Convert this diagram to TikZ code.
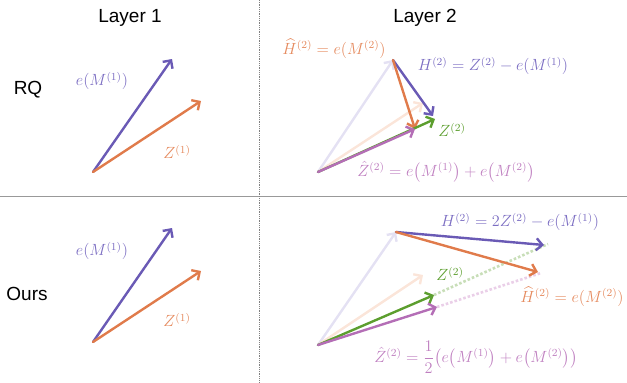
\documentclass[tikz,border=0pt]{standalone}
\usepackage{amsmath}
\usepackage{fontspec}
\newfontfamily\headfont{Liberation Sans}
\usetikzlibrary{arrows.meta}
\definecolor{cpur}{HTML}{6A5AB5}
\definecolor{cora}{HTML}{E07B4B}
\definecolor{cgrn}{HTML}{5C9E2E}
\definecolor{cmag}{HTML}{B46EB6}
\definecolor{lpur}{HTML}{7B6DC2}
\definecolor{lora}{HTML}{E58A5E}
\definecolor{lmag}{HTML}{BF7FC0}
\definecolor{fpur}{HTML}{E4E1F3}
\definecolor{fora}{HTML}{FBE5D9}
\definecolor{dgrn}{HTML}{C8DEB8}
\definecolor{dmag}{HTML}{EACFE8}
\begin{document}
\begin{tikzpicture}[x=1pt,y=-1pt,
  vec/.style={line width=2.4pt,line cap=round,-{Straight Barb[length=6pt,width=12pt]}},
  dotl/.style={line width=2.6pt,dotted},
  head/.style={font=\headfont\fontsize{19}{22}\selectfont},
  lab/.style={font=\fontsize{12}{14}\selectfont,inner sep=1pt,scale=1.35}]
\useasboundingbox (0,0) rectangle (627,383);
% separators
\coordinate (hl) at (0,196); \coordinate (hr) at (627,196);
\coordinate (vt) at (259,0); \coordinate (vb) at (259,383);
\draw[gray!80,line width=0.8pt] (hl) -- (hr);
\draw[gray,line width=0.8pt,densely dotted] (vt) -- (vb);
% headings
\node[head] (l1) at (130,18) {Layer 1};
\node[head] (l2) at (425,18) {Layer 2};
\node[head] (rq) at (28,90) {RQ};
\node[head] (ours) at (27,294) {Ours};
% ---- RQ layer 1
\coordinate (O1) at (93,172); \coordinate (P1) at (172,59); \coordinate (Q1) at (201,101);
\draw[vec,cpur] (O1) -- (P1);
\draw[vec,cora] (O1) -- (Q1);
\node[lab,text=lpur] (t1) at (102,81) {$e(M^{(1)})$};
\node[lab,text=lora] (t2) at (177,152) {$Z^{(1)}$};
% ---- Ours layer 1
\coordinate (O3) at (93,342); \coordinate (P3) at (172,228); \coordinate (Q3) at (201,271);
\draw[vec,cpur] (O3) -- (P3);
\draw[vec,cora] (O3) -- (Q3);
\node[lab,text=lpur] (t3) at (102,251) {$e(M^{(1)})$};
\node[lab,text=lora] (t4) at (177,320) {$Z^{(1)}$};
% ---- RQ layer 2
\coordinate (O2) at (318,172); \coordinate (A2) at (393,60); \coordinate (B2) at (423,103);
\coordinate (C2) at (433,116); \coordinate (G2) at (435,119); \coordinate (D2) at (415,129);
\draw[vec,fpur] (O2) -- (A2);
\draw[vec,fora] (O2) -- (B2);
\draw[vec,cpur] (A2) -- (C2);
\draw[vec,cora] (A2) -- (D2);
\draw[vec,cgrn] (O2) -- (G2);
\draw[vec,cmag] (O2) -- (D2);
\node[lab,text=lora] (t5) at (334,49) {$\widehat{H}^{(2)}=e(M^{(2)})$};
\node[lab,text=lpur] (t6) at (493,66) {$H^{(2)}=Z^{(2)}-e(M^{(1)})$};
\node[lab,text=cgrn] (t7) at (452,130) {$Z^{(2)}$};
\node[lab,text=lmag] (t8) at (446,172) {$\hat{Z}^{(2)}=e\bigl(M^{(1)}\bigr)+e\bigl(M^{(2)}\bigr)$};
% ---- Ours layer 2
\coordinate (O4) at (318,345); \coordinate (A4) at (396,232); \coordinate (B4) at (423,275);
\coordinate (C4) at (544,245); \coordinate (E4) at (548,244);
\coordinate (D4) at (538,272); \coordinate (F4) at (541,273);
\coordinate (G4) at (434,295); \coordinate (M4) at (437,307);
\draw[dotl,dgrn] (G4) -- (E4);
\draw[dotl,dmag] (M4) -- (F4);
\draw[vec,fpur] (O4) -- (A4);
\draw[vec,fora] (O4) -- (B4);
\draw[vec,cpur] (A4) -- (C4);
\draw[vec,cora] (A4) -- (D4);
\draw[vec,cgrn] (O4) -- (G4);
\draw[vec,cmag] (O4) -- (M4);
\node[lab,text=lpur] (t9) at (520,222) {$H^{(2)}=2Z^{(2)}-e(M^{(1)})$};
\node[lab,text=cgrn] (t10) at (450,274) {$Z^{(2)}$};
\node[lab,text=lora] (t11) at (572,297) {$\widehat{H}^{(2)}=e(M^{(2)})$};
\node[lab,text=lmag] (t12) at (476,357) {$\hat{Z}^{(2)}=\dfrac{1}{2}\bigl(e\bigl(M^{(1)}\bigr)+e\bigl(M^{(2)}\bigr)\bigr)$};
\end{tikzpicture}
\end{document}
